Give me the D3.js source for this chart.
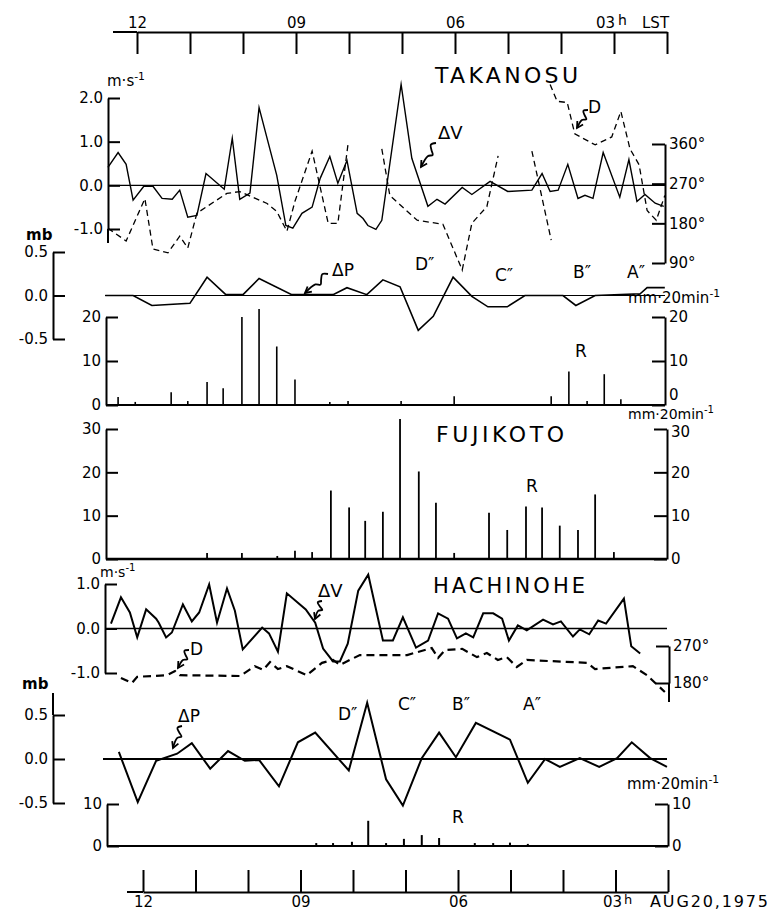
<!DOCTYPE html>
<html><head><meta charset="utf-8">
<script src="https://cdn.jsdelivr.net/npm/d3@7"></script>
<style>
body{margin:0;background:#fff}
svg{display:block;background:#fff}
text{font-family:"DejaVu Sans",sans-serif;fill:#000}
</style>
</head><body>
<svg id="c" width="774" height="910"></svg>
<script>
// ---------------- DATA (time in hours LST, decreasing to the right) ----------------
const hourTicks = [12, 11, 10, 9, 8, 7, 6, 5, 4, 3, 2];
const hourLabels = {12: "12", 9: "09", 6: "06"};

// TAKANOSU wind-speed deviation ΔV (m/s)
const takanosuDV = [[12.58,0.41],[12.39,0.75],[12.24,0.48],[12.11,-0.34],[11.91,-0.02],[11.74,-0.02],[11.57,-0.30],[11.38,-0.32],[11.24,-0.11],[11.09,-0.73],[10.92,-0.69],[10.75,0.27],[10.41,-0.09],[10.26,1.08],[10.12,-0.32],[9.93,-0.18],[9.76,1.78],[9.43,0.23],[9.26,-0.92],[9.13,-0.98],[8.96,-0.64],[8.77,-0.50],[8.62,0.16],[8.44,0.66],[8.29,0.05],[8.12,0.57],[7.93,-0.64],[7.82,-0.76],[7.73,-0.92],[7.58,-1.01],[7.47,-0.80],[7.11,2.31],[6.91,0.62],[6.61,-0.48],[6.44,-0.32],[6.29,-0.43],[5.97,-0.05],[5.79,-0.21],[5.45,0.09],[5.12,-0.14],[4.67,-0.11],[4.48,0.27],[4.33,-0.14],[4.18,-0.11],[4.00,0.48],[3.81,-0.30],[3.68,-0.23],[3.53,-0.30],[3.34,0.75],[3.03,-0.27],[2.86,0.59],[2.71,-0.37],[2.56,-0.21],[2.37,-0.41],[2.21,-0.48]];
// TAKANOSU wind direction D (deg), null = break
const takanosuD = [[12.58,169],[12.24,140],[11.89,236],[11.74,122],[11.46,113],[11.24,151],[11.09,124],[10.92,203],[10.36,248],[10.12,252],[9.61,225],[9.43,207],[9.24,162],[9.09,230],[8.77,344],[8.47,180],[8.29,180],[8.10,360],[7.8,null],[7.47,349],[7.32,243],[6.81,187],[6.33,178],[5.97,74],[5.79,180],[5.51,218],[5.30,333],[5.0,null],[4.67,344],[4.31,142],[4.32,null],[4.33,495],[4.20,457],[4.01,454],[3.87,383],[3.49,358],[3.18,376],[3.01,434],[2.84,349],[2.67,313],[2.52,209],[2.35,187],[2.19,243]];
// TAKANOSU pressure deviation ΔP (mb)
const takanosuDP = [[12.63,0],[12.11,0],[11.76,-0.115],[11.05,-0.09],[10.73,0.21],[10.38,0.01],[10.06,0.01],[9.76,0.195],[9.15,0.01],[8.38,0.01],[8.12,0.09],[7.75,0.01],[7.45,0.18],[7.13,0.10],[6.79,-0.40],[6.51,-0.24],[6.14,0.21],[5.79,-0.01],[5.49,-0.13],[5.13,-0.13],[4.80,0],[4.09,0],[3.85,-0.115],[3.49,0],[2.65,0.02],[2.52,0.09],[2.19,0.09]];
// TAKANOSU rainfall R (mm/20min)
const takanosuR = [[12.39,1.8],[12.07,0.7],[11.40,2.9],[11.09,0.9],[10.73,5.2],[10.43,3.8],[10.08,20],[9.76,21.8],[9.43,13.3],[9.09,5.8],[8.44,0.7],[8.10,0.9],[7.11,0.9],[6.12,2.0],[4.31,2.0],[3.98,7.6],[3.64,0.9],[3.32,7.0],[3.01,1.3]];
// FUJIKOTO rainfall R (mm/20min)
const fujikotoR = [[10.73,1.4],[10.08,1.4],[9.42,0.7],[9.09,1.9],[8.77,1.6],[8.42,15.8],[8.08,11.9],[7.78,8.8],[7.45,10.9],[7.13,32.3],[6.78,20.2],[6.46,13.0],[6.12,1.4],[5.47,10.7],[5.13,6.7],[4.78,12.1],[4.48,11.9],[4.15,7.7],[3.81,6.7],[3.49,14.9],[3.14,1.6]];
// HACHINOHE ΔV (m/s)
const hachinoheDV = [[12.61,0.11],[12.42,0.70],[12.25,0.36],[12.11,-0.20],[11.94,0.43],[11.75,0.22],[11.70,0.13],[11.56,-0.20],[11.45,-0.09],[11.24,0.54],[11.07,0.16],[10.93,0.36],[10.74,0.99],[10.59,0.13],[10.40,0.90],[10.25,0.40],[10.10,-0.47],[9.73,0.02],[9.60,-0.11],[9.43,-0.52],[9.26,0.79],[8.90,0.43],[8.72,0.13],[8.57,-0.45],[8.38,-0.74],[8.25,-0.74],[8.10,-0.34],[7.90,0.85],[7.71,1.21],[7.43,-0.27],[7.24,-0.27],[7.05,0.25],[6.80,-0.43],[6.57,-0.27],[6.38,0.34],[6.19,0.22],[6.02,-0.22],[5.85,-0.11],[5.71,-0.20],[5.52,0.34],[5.33,0.34],[5.16,0.22],[5.03,-0.27],[4.86,0.07],[4.69,-0.04],[4.38,0.20],[4.19,0.09],[4.04,0.16],[3.81,-0.18],[3.68,-0.02],[3.50,-0.13],[3.33,0.18],[3.18,0.11],[2.84,0.67],[2.70,-0.40],[2.53,-0.56]];
// HACHINOHE D (deg)
const hachinoheD = [[12.42,192],[12.21,180],[12.11,195],[11.54,199],[11.39,209],[11.30,199],[10.15,197],[9.87,221],[9.71,212],[9.58,231],[9.43,214],[9.26,221],[8.88,199],[8.59,229],[8.38,236],[8.25,224],[7.87,248],[7.10,248],[6.97,248],[6.50,265],[6.38,241],[6.25,260],[5.92,263],[5.64,243],[5.45,253],[5.24,236],[5.07,243],[4.88,219],[4.69,236],[3.54,229],[3.39,214],[2.67,221],[2.40,199],[2.06,158]];
// HACHINOHE ΔP (mb)
const hachinoheDP = [[12.46,0.08],[12.10,-0.49],[11.75,-0.02],[11.35,0.06],[11.07,0.18],[10.72,-0.11],[10.38,0.09],[10.06,-0.02],[9.79,-0.01],[9.41,-0.31],[9.05,0.19],[8.72,0.30],[8.08,-0.13],[7.73,0.64],[7.37,-0.23],[7.05,-0.53],[6.69,0.01],[6.36,0.30],[6.04,0.02],[5.66,0.41],[5.01,0.22],[4.67,-0.27],[4.34,0.00],[4.06,-0.09],[3.68,0.01],[3.31,-0.09],[2.97,0.01],[2.69,0.19],[2.34,0.01],[2.02,-0.09]];
// HACHINOHE R (mm/20min)
const hachinoheR = [[8.70,0.7],[8.38,0.7],[8.02,1.0],[7.71,6.0],[7.37,0.7],[7.03,1.7],[6.69,2.6],[6.36,1.9],[5.68,0.7],[5.33,0.7],[5.01,0.8],[4.67,0.5]];

const dvTicksTak = [-1, 0, 1, 2];
const dvTicksHac = [-1, 0, 1];
const dpTicks = [-0.5, 0, 0.5];
const dirTicksTak = [90, 180, 270, 360];
const dirTicksHac = [180, 270];
const rTicksTak = [0, 10, 20];
const rTicksFuj = [0, 10, 20, 30];
const rTicksHac = [0, 10];

// ---------------- SCALES ----------------
// the printed top time axis and the upper panels are slightly offset in the original composite
const xTopAxis = d3.scaleLinear().domain([12, 2]).range([137, 667]);
const xTop = d3.scaleLinear().domain([12, 2]).range([139, 675]);
const xBot = d3.scaleLinear().domain([12, 2]).range([143, 668]);

const yTakDV = d3.scaleLinear().domain([-1, 2]).range([229, 98]);
const yTakD  = d3.scaleLinear().domain([90, 360]).range([263, 144]);
const yTakDP = d3.scaleLinear().domain([-0.5, 0.5]).range([339, 252]);
const yTakR  = d3.scaleLinear().domain([0, 20]).range([405, 317]);
const yFujR  = d3.scaleLinear().domain([0, 30]).range([559, 429]);
const yHacDV = d3.scaleLinear().domain([-1, 1]).range([673, 584]);
const yHacD  = d3.scaleLinear().domain([180, 270]).range([683, 646]);
const yHacDP = d3.scaleLinear().domain([-0.5, 0.5]).range([803, 715]);
const yHacR  = d3.scaleLinear().domain([0, 10]).range([846, 804]);

const svg = d3.select("#c");
const FONT = '"DejaVu Sans", sans-serif';

function styleAxis(g, fs) {
  g.attr("font-family", FONT).attr("font-size", fs);
  g.selectAll("path.domain").attr("stroke", "#000").attr("stroke-width", 2);
  g.selectAll(".tick line").attr("stroke", "#000").attr("stroke-width", 2);
  g.selectAll(".tick text").attr("fill", "#000");
  return g;
}
function leftAxis(x, scale, ticks, fmt, fs) {
  const g = svg.append("g").attr("transform", `translate(${x},0)`)
    .call(d3.axisLeft(scale).tickValues(ticks).tickFormat(fmt).tickSize(-12).tickSizeOuter(0).tickPadding(5));
  return styleAxis(g, fs || 15);
}
function rightAxis(x, scale, ticks, fmt, fs) {
  const g = svg.append("g").attr("transform", `translate(${x},0)`)
    .call(d3.axisRight(scale).tickValues(ticks).tickFormat(fmt).tickSize(-13).tickSizeOuter(0).tickPadding(4));
  return styleAxis(g, fs || 15);
}
function hline(x1, x2, y, w) {
  svg.append("line").attr("x1", x1).attr("x2", x2).attr("y1", y).attr("y2", y)
    .attr("stroke", "#000").attr("stroke-width", w);
}
function vline(x, y1, y2, w) {
  svg.append("line").attr("x1", x).attr("x2", x).attr("y1", y1).attr("y2", y2)
    .attr("stroke", "#000").attr("stroke-width", w);
}
function label(txt, x, y, fs, opts) {
  opts = opts || {};
  const t = svg.append("text").attr("x", x).attr("y", y).attr("font-size", fs)
    .attr("text-anchor", opts.anchor || "start").text(txt);
  if (opts.len) t.attr("textLength", opts.len).attr("lengthAdjust", "spacing");
  if (opts.weight) t.attr("font-weight", opts.weight);
  return t;
}
function unitLabel(base, x, y, fs) {
  const t = svg.append("text").attr("x", x).attr("y", y).attr("font-size", fs);
  t.append("tspan").text(base);
  t.append("tspan").attr("dy", -6).attr("font-size", fs * 0.72).text("-1");
  return t;
}
function drawLine(data, xs, ys, w, dash) {
  const p = svg.append("path").datum(data)
    .attr("d", d3.line().defined(d => d[1] !== null).x(d => xs(d[0])).y(d => ys(d[1])))
    .attr("fill", "none").attr("stroke", "#000").attr("stroke-width", w)
    .attr("stroke-linejoin", "miter").attr("stroke-miterlimit", 10);
  if (dash) p.attr("stroke-dasharray", dash);
  return p;
}
function drawBars(data, xs, ys, w) {
  svg.append("g").selectAll("line").data(data).join("line")
    .attr("x1", d => xs(d[0])).attr("x2", d => xs(d[0]))
    .attr("y1", ys(0)).attr("y2", d => ys(d[1]))
    .attr("stroke", "#000").attr("stroke-width", w);
}
function squiggle(x1, y1, x2, y2) {
  const dx = x2 - x1, dy = y2 - y1, L = Math.hypot(dx, dy);
  const ux = dx / L, uy = dy / L, px = -uy, py = ux, a = 3.5;
  const pt = (f, o) => [x1 + ux * L * f + px * o, y1 + uy * L * f + py * o];
  const pts = [pt(0, 0), pt(0.15, a), pt(0.3, 0), pt(0.42, -a), pt(0.55, 0), [x2, y2]];
  svg.append("path").attr("d", d3.line().curve(d3.curveCatmullRom)(pts))
    .attr("fill", "none").attr("stroke", "#000").attr("stroke-width", 1.8);
  const ang = Math.atan2(dy, dx), h = 7;
  const b1 = [x2 - h * Math.cos(ang - 0.5), y2 - h * Math.sin(ang - 0.5)];
  const b2 = [x2 - h * Math.cos(ang + 0.5), y2 - h * Math.sin(ang + 0.5)];
  svg.append("path").attr("d", `M${b1}L${x2},${y2}L${b2}`)
    .attr("fill", "none").attr("stroke", "#000").attr("stroke-width", 1.8);
}
const f1 = d => d.toFixed(1);
const fint = d => String(d);
const fdeg = d => d + "°";

// ---------------- TOP TIME AXIS ----------------
const topAx = svg.append("g").attr("transform", "translate(0,32)")
  .call(d3.axisTop(xTopAxis).tickValues(hourTicks).tickFormat(d => hourLabels[d] || "")
    .tickSize(-22).tickSizeOuter(0).tickPadding(4));
styleAxis(topAx, 15);
hline(113, 137, 32, 2);
{
  const t = svg.append("text").attr("y", 28).attr("font-size", 15);
  t.append("tspan").attr("x", 596).text("03");
  t.append("tspan").attr("x", 618).attr("dy", -3).attr("font-size", 14).text("h");
  t.append("tspan").attr("x", 642).attr("dy", 3).text("LST");
}

// ---------------- TAKANOSU ----------------
label("TAKANOSU", 435, 83, 22, {len: 143});
hline(108, 665, yTakDV(0), 1.2);
leftAxis(108, yTakDV, dvTicksTak, f1, 15);
vline(108, yTakDV(-1), 243, 2);
unitLabel("m·s", 107, 86, 15);
rightAxis(665, yTakD, dirTicksTak, fdeg, 15);
drawLine(takanosuD, xTop, yTakD, 1.3, "6,4");
drawLine(takanosuDV, xTop, yTakDV, 1.4);
label("ΔV", 438, 139, 18);
squiggle(436, 143, 421, 167);
label("D", 588, 113, 17);
squiggle(588, 110, 577, 128);

// ΔP
label("mb", 26, 240, 15, {weight: "bold"});
leftAxis(53, yTakDP, dpTicks, f1, 15);
hline(105, 665, yTakDP(0), 1.2);
drawLine(takanosuDP, xTop, yTakDP, 1.6);
label("ΔP", 332, 276, 17);
squiggle(328, 274, 305, 293);
label("D″", 415, 270, 17);
label("C″", 495, 281, 17);
label("B″", 573, 278, 17);
label("A″", 627, 278, 17);
unitLabel("mm·20min", 628, 303, 15);

// R
leftAxis(106, yTakR, rTicksTak, fint, 15);
const rTakRight = rightAxis(665, yTakR, rTicksTak, fint, 15);
rTakRight.selectAll(".tick text").filter(d => d === 0).attr("dy", "-0.35em");
hline(106, 665, yTakR(0), 2);
drawBars(takanosuR, xTop, yTakR, 1.6);
label("R", 575, 357, 17);
unitLabel("mm·20min", 628, 419, 14);

// ---------------- FUJIKOTO ----------------
label("FUJIKOTO", 436, 442, 22, {len: 128});
leftAxis(106, yFujR, rTicksFuj, fint, 15);
const fujRight = rightAxis(667, yFujR, rTicksFuj, fint, 15);
fujRight.selectAll(".tick text").filter(d => d === 30).attr("dy", "0.5em");
drawBars(fujikotoR, xTop, yFujR, 1.8);
hline(106, 667, yFujR(0), 2.5);
label("R", 526, 492, 17);

// ---------------- HACHINOHE ----------------
label("HACHINOHE", 433, 593, 21, {len: 152});
hline(105, 667, yHacDV(0), 1.6);
leftAxis(105, yHacDV, dvTicksHac, f1, 15);
unitLabel("m·s", 100, 577, 14);
rightAxis(669, yHacD, dirTicksHac, fdeg, 15);
vline(669, yHacD(180), 702, 2);
drawLine(hachinoheD, xBot, yHacD, 2.2, "8,5");
drawLine(hachinoheDV, xBot, yHacDV, 2.0);
label("ΔV", 318, 597, 18);
squiggle(322, 601, 315, 619);
label("D", 190, 655, 17);
squiggle(189, 650, 178, 668);

// ΔP
label("mb", 22, 689, 15, {weight: "bold"});
leftAxis(53, yHacDP, dpTicks, f1, 15);
vline(53, 693, yHacDP(0.5), 2);
hline(103, 667, yHacDP(0), 1.8);
drawLine(hachinoheDP, xBot, yHacDP, 2.0);
label("ΔP", 178, 722, 17);
squiggle(182, 726, 173, 748);
label("D″", 338, 720, 17);
label("C″", 398, 710, 17);
label("B″", 452, 710, 17);
label("A″", 523, 710, 17);
unitLabel("mm·20min", 627, 789, 15);

// R
leftAxis(107, yHacR, rTicksHac, fint, 15);
rightAxis(668, yHacR, rTicksHac, fint, 15);
hline(107, 668, yHacR(0), 2);
drawBars(hachinoheR, xBot, yHacR, 2);
label("R", 452, 823, 17);

// ---------------- BOTTOM TIME AXIS ----------------
const botAx = svg.append("g").attr("transform", "translate(0,892)")
  .call(d3.axisBottom(xBot).tickValues(hourTicks).tickFormat(d => hourLabels[d] || "")
    .tickSize(-22).tickSizeOuter(0).tickPadding(4));
styleAxis(botAx, 15);
hline(127, 143, 892, 2);
{
  const t = svg.append("text").attr("y", 907).attr("font-size", 15);
  t.append("tspan").attr("x", 603).text("03");
  t.append("tspan").attr("x", 624).attr("dy", -3).attr("font-size", 13).text("h");
  t.append("tspan").attr("x", 650).attr("dy", 3).attr("font-size", 16).attr("textLength", 118).attr("lengthAdjust", "spacing").text("AUG20,1975");
}
</script>
</body></html>
